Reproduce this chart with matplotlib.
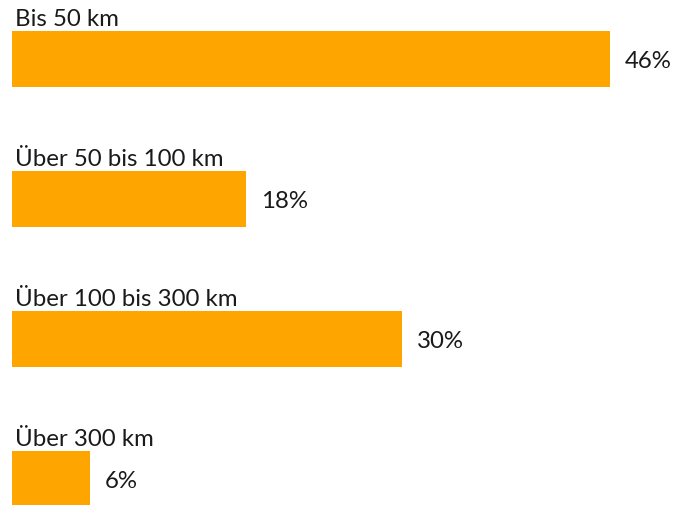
import matplotlib.pyplot as plt

kategorien = ['Bis 50 km', 'Über 50 bis 100 km', 'Über 100 bis 300 km', 'Über 300 km']
anteile = [46, 18, 30, 6]
beschriftung = ['46%', '18%', '30%', '6%']

plt.rcParams['font.family'] = ['Lato', 'DejaVu Sans']

fig = plt.figure(figsize=(6.76, 5.05), dpi=100)
ax = fig.add_axes([0, 0, 1, 1])

pos = list(range(len(kategorien)))
ax.barh(pos, anteile, height=0.4, color='#FFA500')

# Skalen: 13 px pro Prozentpunkt, 140 px pro Kategorie
ax.set_xlim(-12 / 13, (676 - 12) / 13)
ax.set_ylim((505 - 59) / 140, -59 / 140)

for i, (k, v, t) in enumerate(zip(kategorien, anteile, beschriftung)):
    ax.text(0.2, i - 0.235, k, fontsize=17.3, va='baseline', ha='left', color='#1a1a1a')
    ax.text(v + 1.15, i + 0.02, t, fontsize=17.3, va='center', ha='left', color='#1a1a1a')

ax.axis('off')
fig.savefig('out.png', dpi=100)
